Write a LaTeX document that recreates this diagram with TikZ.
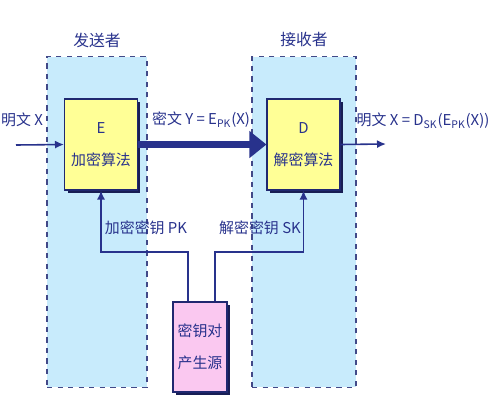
\documentclass[tikz,border=0pt]{standalone}
\usepackage{fontspec}
\setmainfont{Noto Sans CJK SC}
\usepackage{xcolor}
\usepackage{tikz}
\usetikzlibrary{arrows.meta,shadows}
\definecolor{navy}{RGB}{40,50,140}
\definecolor{panelblue}{RGB}{200,235,252}
\definecolor{boxyellow}{RGB}{255,255,150}
\definecolor{boxpink}{RGB}{250,200,240}
\tikzset{
    panel/.style={draw=navy!70!gray, dashed, line width=0.8pt, fill=panelblue, inner sep=0pt},
    algbox/.style={draw=navy!80!black, line width=0.6pt, fill=boxyellow, inner sep=0pt, text=navy,
        align=center, minimum width=14.6mm, minimum height=18.2mm, font=\fontsize{8.5}{18}\selectfont,
        drop shadow={shadow xshift=0.6mm, shadow yshift=-0.6mm, fill=navy!60!black, opacity=1}},
    genbox/.style={algbox, fill=boxpink, minimum width=10.8mm, minimum height=18mm},
    lbl/.style={text=navy, inner sep=0pt, font=\fontsize{8.5}{9}\selectfont},
    arr/.style={draw=navy, line width=0.9pt, -{Latex[length=1.8mm,width=1.6mm]}},
    bigarr/.style={draw=navy, line width=1.5mm, -{Triangle[length=3.4mm,width=5.2mm]}}}
\begin{document}
\begin{tikzpicture}[x=0.02cm,y=-0.02cm]
\useasboundingbox (0,0) rectangle (500,400);
% sender and receiver panels
\node[panel, minimum width=20mm, minimum height=66.2mm] (snd) at (97,222) {};
\node[panel, minimum width=20.8mm, minimum height=66.2mm] (rcv) at (304,222) {};
\node[lbl, font=\fontsize{9}{9}\selectfont] (sndt) at (97,40) {发送者};
\node[lbl, font=\fontsize{9}{9}\selectfont] (rcvt) at (304,40) {接收者};

% algorithm boxes
\node[algbox] (E) at (101,144.5) {E\\加密算法};
\node[algbox] (D) at (303.5,144.5) {D\\解密算法};
\node[genbox] (gen) at (200,347) {密钥对\\产生源};

% plaintext in / ciphertext / plaintext out
\coordinate (in) at (16,145);
\coordinate (out) at (386,144);
\draw[arr] (in) -- (E.west);
\draw[bigarr] (E.east) -- (D.west);
\draw[arr] (D.east) -- (out);
\node[lbl] (pin) at (22,120) {明文 X};
\node[lbl] (ctext) at (201,120) {密文 Y = E\textsubscript{PK}(X)};
\node[lbl] (pout) at (423,121) {明文 X = D\textsubscript{SK}(E\textsubscript{PK}(X))};

% key lines
\coordinate (kL) at (101,252);
\coordinate (kR) at (303.5,252);
\draw[arr] ([xshift=-2.4mm]gen.north) |- (kL) -- (E.south);
\draw[arr] ([xshift=3mm]gen.north) |- (kR) -- (D.south);
\node[lbl] (pk) at (146,228) {加密密钥 PK};
\node[lbl] (sk) at (260,228) {解密密钥 SK};
\end{tikzpicture}
\end{document}
